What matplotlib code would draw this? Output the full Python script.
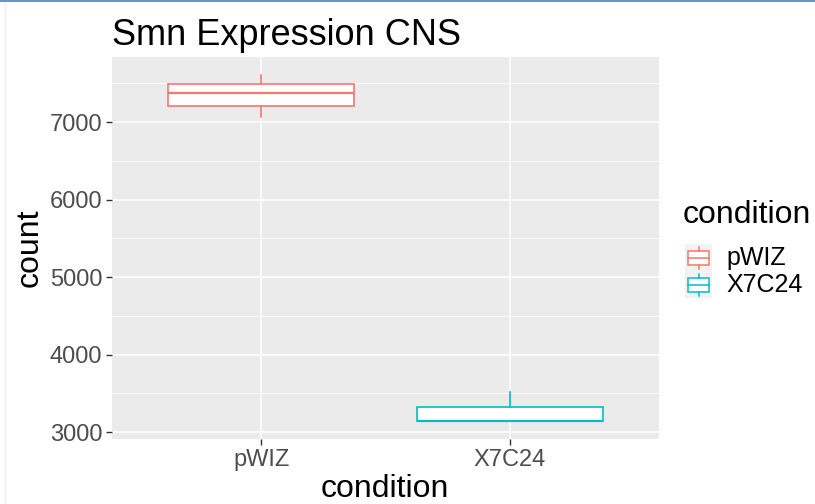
import matplotlib
matplotlib.use("Agg")
import matplotlib.pyplot as plt
from matplotlib.patches import Rectangle
from matplotlib.lines import Line2D

# ----------------------------
# Data (summary stats)
# ----------------------------
conditions = ["pWIZ", "X7C24"]
whislo = [7068, 3142]
q1 = [7210, 3142]
med = [7370, 3142]
q3 = [7486, 3326]
whishi = [7606, 3512]
colors = ["#F8766D", "#00BFC4"]

plt.rcParams["font.family"] = ["Liberation Sans", "DejaVu Sans"]

W, H = 815, 504
fig = plt.figure(figsize=(W / 100, H / 100), dpi=100)


def fx(px):
    return px / W


def fy(py):
    return 1 - py / H


ax = fig.add_axes([fx(112), fy(439), fx(659) - fx(112), fy(57) - fy(439)])
ax.set_facecolor("#EBEBEB")
for s in ax.spines.values():
    s.set_visible(False)

# grid
ax.set_axisbelow(True)
ax.set_yticks([3000, 4000, 5000, 6000, 7000])
ax.set_yticks([3500, 4500, 5500, 6500, 7500], minor=True)
ax.grid(True, which="major", color="white", linewidth=1.1)
ax.grid(True, which="minor", axis="y", color="white", linewidth=0.55)
ax.tick_params(which="minor", length=0)

# ----------------------------
# Boxes
# ----------------------------
for i, c in enumerate(conditions):
    stats = [{"med": med[i], "q1": q1[i], "q3": q3[i],
              "whislo": whislo[i], "whishi": whishi[i], "fliers": []}]
    lp = dict(color=colors[i], linewidth=1.2)
    ax.bxp(stats, positions=[i + 1], widths=0.75, patch_artist=True,
           showcaps=False, showfliers=False,
           boxprops=dict(facecolor="white", edgecolor=colors[i], linewidth=1.2),
           medianprops=dict(color=colors[i], linewidth=1.6),
           whiskerprops=lp, manage_ticks=False)

ax.set_xlim(0.4, 2.6)
ax.set_ylim(2910, 7839)
ax.set_xticks([1, 2])
ax.set_xticklabels(conditions)
ax.tick_params(which="major", length=4, width=1, color="#333333",
               labelcolor="#4D4D4D", labelsize=17, pad=3)

# ----------------------------
# Titles
# ----------------------------
fig.text(fx(112), fy(45), "Smn Expression CNS", fontsize=26, ha="left",
         va="baseline", color="black")
fig.text(fx(385), fy(489), "condition", fontsize=23, ha="center", va="center")
fig.text(fx(30), fy(248), "count", fontsize=23, ha="center", va="center",
         rotation=90)

# ----------------------------
# Legend (drawn by hand, ggplot style)
# ----------------------------
fig.text(fx(683), fy(215), "condition", fontsize=23, ha="left", va="center")
for i, c in enumerate(conditions):
    top = 244 + 27 * i
    fig.add_artist(Rectangle((fx(685), fy(top + 27)), fx(712) - fx(685),
                             fy(top) - fy(top + 27), transform=fig.transFigure,
                             facecolor="#F2F2F2", edgecolor="none"))
    cy = top + 13.5
    fig.add_artist(Rectangle((fx(688), fy(cy + 7)), fx(709) - fx(688),
                             fy(cy - 7) - fy(cy + 7), transform=fig.transFigure,
                             facecolor="white", edgecolor=colors[i], linewidth=1.1))
    fig.add_artist(Line2D([fx(688), fx(709)], [fy(cy), fy(cy)],
                          transform=fig.transFigure, color=colors[i], linewidth=1.1))
    fig.add_artist(Line2D([fx(698.5), fx(698.5)], [fy(cy - 11), fy(cy - 7)],
                          transform=fig.transFigure, color=colors[i], linewidth=1.1))
    fig.add_artist(Line2D([fx(698.5), fx(698.5)], [fy(cy + 7), fy(cy + 11)],
                          transform=fig.transFigure, color=colors[i], linewidth=1.1))
    fig.text(fx(726), fy(cy + 1), c, fontsize=18, ha="left", va="center")

# screenshot frame lines
fig.add_artist(Line2D([0, 1], [fy(1), fy(1)], transform=fig.transFigure,
                      color="#6F8FCF", linewidth=1.5))
fig.add_artist(Line2D([fx(5), fx(5)], [0, fy(3)], transform=fig.transFigure,
                      color="#EEEEEE", linewidth=1))

fig.savefig("out.png", dpi=100)
